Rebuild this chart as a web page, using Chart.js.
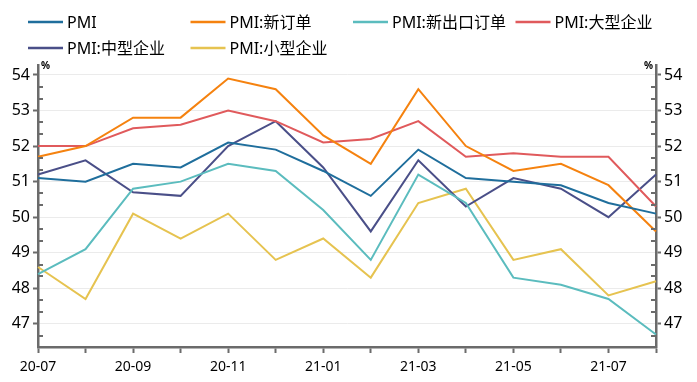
<!DOCTYPE html>
<html>
<head>
<meta charset="utf-8">
<script src="https://cdn.jsdelivr.net/npm/chart.js@4/dist/chart.umd.min.js"></script>
<style>
html,body{margin:0;padding:0;background:#fff;}
#wrap{width:697px;height:382px;position:relative;}
</style>
</head>
<body>
<div id="wrap"><canvas id="c" width="697" height="382"></canvas></div>
<script>
const categories = ['20-07','20-08','20-09','20-10','20-11','20-12','21-01','21-02','21-03','21-04','21-05','21-06','21-07','21-08'];
const pmi        = [51.1, 51.0, 51.5, 51.4, 52.1, 51.9, 51.3, 50.6, 51.9, 51.1, 51.0, 50.9, 50.4, 50.1];
const newOrders  = [51.7, 52.0, 52.8, 52.8, 53.9, 53.6, 52.3, 51.5, 53.6, 52.0, 51.3, 51.5, 50.9, 49.6];
const newExport  = [48.4, 49.1, 50.8, 51.0, 51.5, 51.3, 50.2, 48.8, 51.2, 50.4, 48.3, 48.1, 47.7, 46.7];
const large      = [52.0, 52.0, 52.5, 52.6, 53.0, 52.7, 52.1, 52.2, 52.7, 51.7, 51.8, 51.7, 51.7, 50.3];
const medium     = [51.2, 51.6, 50.7, 50.6, 52.0, 52.7, 51.4, 49.6, 51.6, 50.3, 51.1, 50.8, 50.0, 51.2];
const small      = [48.6, 47.7, 50.1, 49.4, 50.1, 48.8, 49.4, 48.3, 50.4, 50.8, 48.8, 49.1, 47.8, 48.2];
const seriesNames = ['PMI','PMI:新订单','PMI:新出口订单','PMI:大型企业','PMI:中型企业','PMI:小型企业'];
const yTickLabels = [47, 48, 49, 50, 51, 52, 53, 54];

const colors = ['#1f6e9c','#f5820f','#5bbcbe','#e05a5c','#4a4f88','#e6c350'];
const FONT = '"Noto Sans","Noto Sans CJK SC",sans-serif';
const AXIS = '#6b6b6b';
const YMIN = 46.35, YMAX = 54.28;

const seriesData = [pmi, newOrders, newExport, large, medium, small];
const datasets = seriesData.map((d, i) => ({
  label: seriesNames[i],
  data: d,
  borderColor: colors[i],
  backgroundColor: colors[i],
  borderWidth: 2,
  pointRadius: 0,
  pointHoverRadius: 0,
  tension: 0,
  fill: false,
  yAxisID: 'y'
}));

const extras = {
  id: 'extras',
  afterDraw(chart) {
    const ctx = chart.ctx;
    const area = chart.chartArea;
    ctx.save();
    ctx.strokeStyle = AXIS;
    ctx.lineWidth = 2;
    ['y','y2'].forEach(id => {
      const s = chart.scales[id];
      const x0 = id === 'y' ? area.left : area.right;
      const dir = id === 'y' ? 1 : -1;
      for (let k = Math.ceil(YMIN * 3); k <= Math.floor(YMAX * 3); k++) {
        if (k % 3 === 0) continue;
        const py = Math.round(s.getPixelForValue(k / 3));
        ctx.beginPath();
        ctx.moveTo(x0, py);
        ctx.lineTo(x0 + dir * 5, py);
        ctx.stroke();
      }
    });
    ctx.fillStyle = '#000';
    ctx.font = 'bold 10px ' + FONT;
    ctx.textBaseline = 'middle';
    ctx.textAlign = 'left';
    ctx.fillText('%', area.left + 3, area.top + 1);
    ctx.textAlign = 'right';
    ctx.fillText('%', area.right - 3, area.top + 1);
    ctx.font = '16px ' + FONT;
    ctx.textAlign = 'left';
    chart.data.datasets.forEach((ds, i) => {
      const col = i % 4, row = Math.floor(i / 4);
      const x = 28 + col * 162.5;
      const y = 22 + row * 26;
      ctx.strokeStyle = ds.borderColor;
      ctx.lineWidth = 2.5;
      ctx.beginPath();
      ctx.moveTo(x, y);
      ctx.lineTo(x + 35, y);
      ctx.stroke();
      ctx.fillStyle = '#000';
      ctx.fillText(ds.label, x + 39, y + 1);
    });
    ctx.restore();
  }
};

const yTicks = {
  color: '#000',
  font: { family: FONT, size: 16 },
  padding: 3,
  includeBounds: false,
  stepSize: 1,
  callback: v => yTickLabels.includes(Math.round(v)) && Math.abs(v - Math.round(v)) < 1e-6 ? String(Math.round(v)) : ''
};

new Chart(document.getElementById('c'), {
  type: 'line',
  data: { labels: categories, datasets },
  options: {
    responsive: false,
    animation: false,
    events: [],
    layout: { padding: { top: 65, left: 0, right: 0, bottom: 0 } },
    plugins: { legend: { display: false }, tooltip: { enabled: false } },
    scales: {
      x: {
        type: 'category',
        offset: false,
        grid: { drawOnChartArea: false, tickLength: 6, tickColor: AXIS, tickWidth: 2 },
        border: { color: AXIS, width: 2.5 },
        ticks: {
          color: '#000',
          font: { family: FONT, size: 14 },
          autoSkip: false,
          maxRotation: 0,
          padding: 6,
          callback: (v, i) => (i % 2 === 0 ? categories[i] : '')
        },
        afterFit(s) { s.height = 35; }
      },
      y: {
        position: 'left',
        min: YMIN, max: YMAX,
        grid: { color: '#ebebeb', lineWidth: 1, tickLength: 5, tickColor: AXIS, tickWidth: 2 },
        border: { color: AXIS, width: 2.5 },
        ticks: yTicks,
        afterFit(s) { s.width = 38; }
      },
      y2: {
        position: 'right',
        min: YMIN, max: YMAX,
        grid: { drawOnChartArea: false, tickLength: 5, tickColor: AXIS, tickWidth: 2 },
        border: { color: AXIS, width: 2.5 },
        ticks: yTicks,
        afterFit(s) { s.width = 41; }
      }
    }
  },
  plugins: [extras]
});
</script>
</body>
</html>
